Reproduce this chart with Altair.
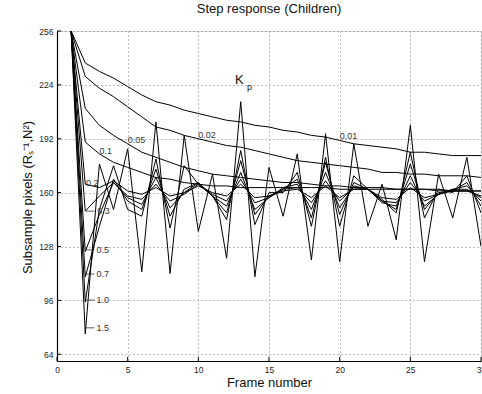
import altair as alt
import pandas as pd

frames = list(range(1, 31))

kp_names = ["0.01", "0.02", "0.05", "0.1", "0.2", "0.3", "0.5", "0.7", "1.0", "1.5"]

s001 = [256, 237, 232, 228, 223, 218, 214, 212, 209, 207, 205, 203, 202, 200, 199,
        197, 196, 194, 193, 191, 189, 188, 187, 186, 184, 184, 183, 182, 182, 182]
s002 = [256, 229, 222, 217, 211, 205, 199, 197, 194, 192, 190, 188, 187, 185, 183,
        181, 179, 178, 177, 176, 175, 174, 172, 172, 171, 171, 170, 170, 170, 169]
s005 = [256, 210, 200, 194, 189, 184, 181, 178, 175, 173, 171, 170, 169, 168, 167,
        166, 166, 165, 164, 164, 163, 163, 163, 162, 162, 162, 162, 161, 161, 161]
s01 = [256, 190, 183, 178, 175, 172, 169, 168, 166, 165, 164, 164, 163, 163, 163,
       163, 163, 163, 163, 162, 162, 162, 162, 162, 162, 162, 161, 161, 161, 161]
s02 = [256, 165, 163, 167, 161, 159, 163, 158, 160, 164, 160, 158, 165, 157, 158,
       161, 162, 157, 164, 157, 162, 162, 157, 156, 163, 157, 159, 161, 161, 158]
s03 = [256, 149, 158, 166, 158, 156, 165, 155, 159, 165, 159, 155, 168, 154, 157,
       162, 163, 154, 167, 155, 163, 162, 155, 154, 166, 155, 159, 162, 162, 157]
s05 = [256, 125, 147, 166, 157, 153, 169, 151, 160, 166, 158, 152, 172, 150, 157,
       163, 165, 150, 172, 151, 164, 162, 154, 152, 170, 152, 159, 162, 164, 155]
s07 = [256, 110, 140, 168, 155, 150, 174, 146, 162, 166, 158, 148, 179, 147, 158,
       162, 168, 145, 178, 147, 166, 162, 155, 150, 177, 150, 160, 161, 166, 152]
s10 = [256, 95, 150, 176, 150, 146, 180, 139, 176, 165, 158, 144, 185, 141, 160,
       160, 172, 140, 181, 140, 170, 162, 156, 148, 184, 145, 162, 160, 170, 148]
s15 = [256, 76, 177, 150, 186, 113, 202, 112, 194, 137, 171, 121, 214, 110, 175,
       146, 183, 120, 195, 119, 189, 140, 165, 132, 200, 119, 171, 145, 181, 128]

series_values = [s001, s002, s005, s01, s02, s03, s05, s07, s10, s15]

# curve labels (data coordinates)
label_text = ["0.01", "0.02", "0.05", "0.1", "0.2", "0.3", "0.5", "0.7", "1.0", "1.5"]
label_x = [20.0, 10.0, 5.0, 3.0, 2.05, 2.85, 2.8, 2.8, 2.8, 2.8]
label_y = [193.5, 194.5, 191.5, 184.6, 166.0, 149.0, 126.0, 111.6, 96.2, 79.7]

# leader lines for the lower labels
leader_x1 = [2.05, 2.05, 2.05, 2.05, 2.05]
leader_x2 = [2.65, 2.65, 2.65, 2.65, 2.65]
leader_y = [149.0, 126.0, 111.6, 96.2, 79.7]

x_ticks = [0, 5, 10, 15, 20, 25, 30]
y_ticks = [64, 96, 128, 160, 192, 224, 256]

rows = []
for name, vals in zip(kp_names, series_values):
    for f, v in zip(frames, vals):
        rows.append({"frame": f, "value": v, "kp": name})
df = pd.DataFrame(rows)

labels_df = pd.DataFrame({"x": label_x, "y": label_y, "t": label_text})
leaders_df = pd.DataFrame({"x": leader_x1, "x2": leader_x2, "y": leader_y})
xt_df = pd.DataFrame({"x": x_ticks})
yt_df = pd.DataFrame({"y": y_ticks})
kp_df = pd.DataFrame({"x": [12.6], "y": [227.0], "t": ["K"]})
kpsub_df = pd.DataFrame({"x": [13.45], "y": [223.0], "t": ["p"]})

FONT = "Liberation Sans"

xscale = alt.Scale(domain=[0, 30], nice=False, zero=False)
yscale = alt.Scale(domain=[60, 256], nice=False, zero=False)

xaxis = alt.Axis(values=x_ticks, title="Frame number", grid=True,
                 gridDash=[1, 3], gridColor="#7a7a7a", gridWidth=1,
                 tickSize=0, labelPadding=4, labelFontSize=8.5, labelFont=FONT,
                 labelColor="#222", domainColor="black", domainWidth=1.2,
                 titleFont=FONT, titleFontSize=13, titleFontWeight="normal",
                 titleColor="#111", titleBaseline="alphabetic", titleY=25,
                 labelFlush=False)
yaxis = alt.Axis(values=y_ticks, title="Subsample pixels (Rₛ⁻¹,N²)", grid=True,
                 gridDash=[1, 3], gridColor="#7a7a7a", gridWidth=1,
                 tickSize=0, labelPadding=4, labelFontSize=8.5, labelFont=FONT,
                 labelColor="#222", domainColor="black", domainWidth=1.2,
                 titleFont=FONT, titleFontSize=13, titleFontWeight="normal",
                 titleColor="#111", titleAngle=270, titleX=-30, titleY=166,
                 titleAlign="center", titleBaseline="middle")

lines = alt.Chart(df).mark_line(color="black", strokeWidth=1, clip=True).encode(
    x=alt.X("frame:Q", scale=xscale, axis=xaxis),
    y=alt.Y("value:Q", scale=yscale, axis=yaxis),
    detail="kp:N",
)

labels = alt.Chart(labels_df).mark_text(
    align="left", baseline="middle", font=FONT, fontSize=9, color="#333"
).encode(x=alt.X("x:Q", scale=xscale), y=alt.Y("y:Q", scale=yscale), text="t:N")

leaders = alt.Chart(leaders_df).mark_rule(color="#333", strokeWidth=0.8).encode(
    x=alt.X("x:Q", scale=xscale), x2="x2:Q", y=alt.Y("y:Q", scale=yscale))

kp_text = alt.Chart(kp_df).mark_text(
    align="left", baseline="middle", font=FONT, fontSize=13, color="#111"
).encode(x=alt.X("x:Q", scale=xscale), y=alt.Y("y:Q", scale=yscale), text="t:N")
kp_sub = alt.Chart(kpsub_df).mark_text(
    align="left", baseline="middle", font=FONT, fontSize=9, color="#111"
).encode(x=alt.X("x:Q", scale=xscale), y=alt.Y("y:Q", scale=yscale), text="t:N")

xticks = alt.Chart(xt_df).mark_rule(color="black", strokeWidth=1).encode(
    x=alt.X("x:Q", scale=xscale), y=alt.value(330), y2=alt.value(326))
yticks = alt.Chart(yt_df).mark_rule(color="black", strokeWidth=1).encode(
    y=alt.Y("y:Q", scale=yscale), x=alt.value(0), x2=alt.value(4))

chart = alt.layer(lines, labels, leaders, kp_text, kp_sub, xticks, yticks).properties(
    width=424, height=330,
    title=alt.TitleParams("Step response (Children)", font=FONT, fontSize=13,
                          fontWeight="normal", color="#111", offset=11,
                          anchor="middle"),
    autosize=alt.AutoSizeParams(type="none"),
    padding={"left": 57, "top": 31, "right": 1, "bottom": 33},
).configure_view(stroke=None).configure(background="white")

chart.save("out.html", embed_options={"renderer": "svg", "actions": False})
